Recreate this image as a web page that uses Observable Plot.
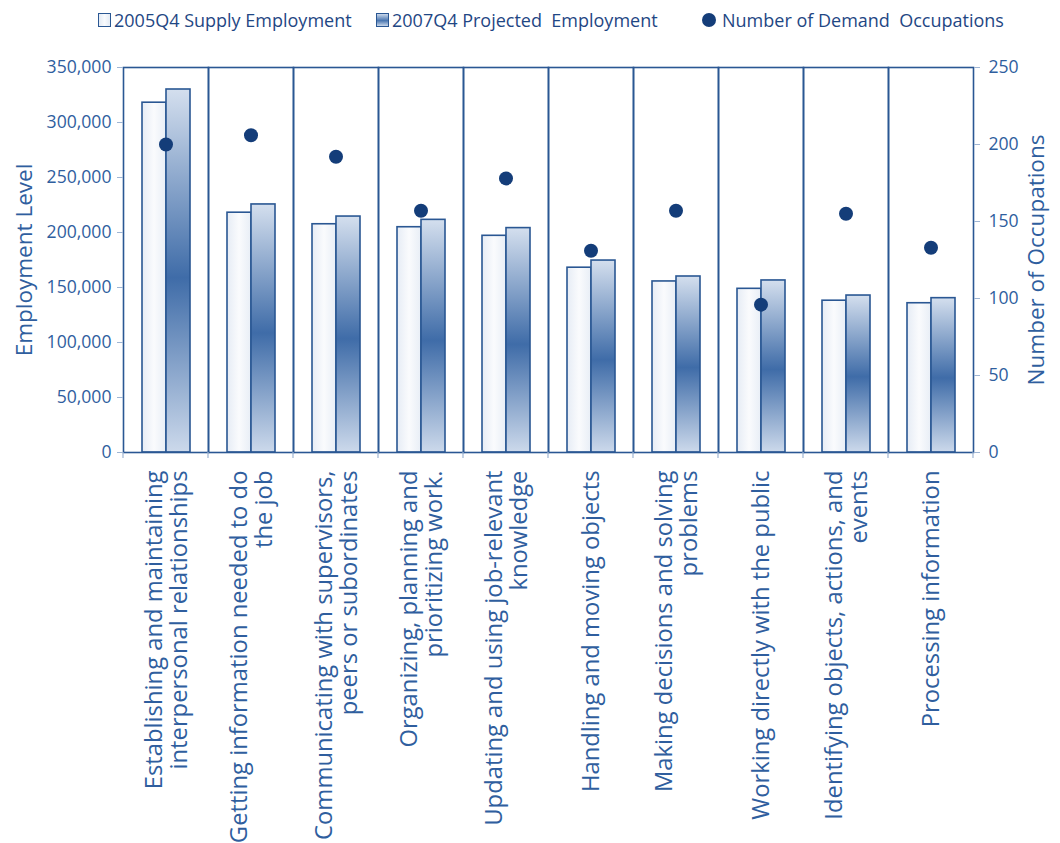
<!DOCTYPE html>
<html>
<head>
<meta charset="utf-8">
<script src="https://cdn.jsdelivr.net/npm/d3@7"></script>
<script src="https://cdn.jsdelivr.net/npm/@observablehq/plot@0.6"></script>
<style>
  body { margin: 0; background: #fff; font-family: "Open Sans", sans-serif; }
  #legend { position: relative; height: 40px; width: 1060px; }
  .item { position: absolute; top: 0; height: 40px; display: flex; align-items: center;
          font-size: 18px; color: #1f4784; white-space: pre; }
  .swatch { width: 11px; height: 12px; border: 1.5px solid #2a5793; margin-right: 3px; box-sizing: content-box; }
  .sw-supply { background: linear-gradient(to right, #e4ebf4, #f8fafd 50%, #e4ebf4); }
  .sw-proj { background: linear-gradient(to bottom, #c9d7ea, #4a76b0 55%, #c9d7ea); }
  .sw-dot { width: 14px; height: 14px; border-radius: 50%; background: #143d79; margin-right: 6px; }
</style>
</head>
<body>
<div id="legend"></div>
<div id="chart"></div>
<script>
// Work activities (x categories), tick-label text broken into lines
const categories = [
  "Establishing and maintaining interpersonal relationships",
  "Getting information needed to do the job",
  "Communicating with supervisors, peers or subordinates",
  "Organizing, planning and prioritizing work.",
  "Updating and using job-relevant knowledge",
  "Handling and moving objects",
  "Making decisions and solving problems",
  "Working directly with the public",
  "Identifying objects, actions, and events",
  "Processing information"
];
const categoryLines = [
  "Establishing and maintaining\ninterpersonal relationships",
  "Getting information needed to do\nthe job",
  "Communicating with supervisors,\npeers or subordinates",
  "Organizing, planning and\nprioritizing work.",
  "Updating and using job-relevant\nknowledge",
  "Handling and moving objects",
  "Making decisions and solving\nproblems",
  "Working directly with the public",
  "Identifying objects, actions, and\nevents",
  "Processing information"
];

// Series values
const supply2005Q4 = [318000, 218000, 207500, 204800, 197000, 168000, 155500, 148800, 138000, 135700];
const projected2007Q4 = [330000, 225500, 214500, 211500, 204000, 174500, 160000, 156400, 142700, 140300];
const demandOccupations = [200, 206, 192, 157, 178, 131, 157, 96, 155, 133];

// Axis ticks
const employmentTicks = [0, 50000, 100000, 150000, 200000, 250000, 300000, 350000];
const occupationTicks = [0, 50, 100, 150, 200, 250];

const seriesNames = ["2005Q4 Supply Employment", "2007Q4 Projected  Employment", "Number of Demand  Occupations"];

// The occupation count shares the employment y scale: 250 occupations ↔ 350,000 jobs
const occMax = 250, empMax = 350000;
const occToEmp = v => v * empMax / occMax;

const lineColor = "#2a5793";
const textColor = "#2f5e9e";
const dotColor = "#143d79";

const supplyRows = categories.map((c, i) => ({category: c, series: "2005Q4", value: supply2005Q4[i]}));
const projectedRows = categories.map((c, i) => ({category: c, series: "2007Q4", value: projected2007Q4[i]}));
const dotRows = categories.map((c, i) => ({category: c, occupations: demandOccupations[i]}));
const labelRows = categories.map((c, i) => ({category: c, label: categoryLines[i]}));

const plot = Plot.plot({
  width: 1060,
  height: 803,
  marginTop: 27,
  marginLeft: 123,
  marginRight: 87,
  marginBottom: 391,
  style: {fontFamily: "Open Sans", background: "#fff", overflow: "visible"},
  fx: {domain: categories, padding: 0, axis: null},
  x: {domain: ["2005Q4", "2007Q4"], paddingInner: 0, paddingOuter: 0.735, axis: null},
  y: {domain: [0, empMax], axis: null},
  marks: [
    Plot.barY(supplyRows, {fx: "category", x: "series", y: "value",
      fill: "url(#supplyFill)", stroke: lineColor, strokeWidth: 1.6}),
    Plot.barY(projectedRows, {fx: "category", x: "series", y: "value",
      fill: "url(#projFill)", stroke: lineColor, strokeWidth: 1.6}),
    Plot.frame({stroke: lineColor, strokeWidth: 1.6}),
    Plot.dot(dotRows, {fx: "category", y: d => occToEmp(d.occupations), r: 7, fill: dotColor}),
    Plot.axisY({anchor: "left", ticks: employmentTicks, tickFormat: d3.format(","),
      tickSize: 6, tickPadding: 6, fontSize: 17.6, color: textColor, label: null, stroke: "#9fb5d3"}),
    Plot.axisY({anchor: "right", ticks: occupationTicks.map(occToEmp), tickFormat: d => d / empMax * occMax,
      tickSize: 6, tickPadding: 9, fontSize: 17.6, color: textColor, label: null, stroke: "#9fb5d3"}),
    Plot.text(labelRows, {fx: "category", text: "label", frameAnchor: "bottom", rotate: -90,
      textAnchor: "end", lineAnchor: "middle", dy: 18, fontSize: 23.8, lineHeight: 1.05, fill: textColor}),
    Plot.text(["Employment Level"], {fx: () => categories[0], text: d => d, frameAnchor: "left",
      textAnchor: "middle", lineAnchor: "middle", dx: -99, rotate: -90, fontSize: 22.5, fill: textColor}),
    Plot.text(["Number of Occupations"], {fx: () => categories[categories.length - 1], text: d => d,
      frameAnchor: "right", textAnchor: "middle", lineAnchor: "middle", dx: 63, rotate: -90, fontSize: 22.5, fill: textColor})
  ]
});

// Gradient fills for the two bar series
const svg = d3.select(plot);
const defs = svg.insert("defs", ":first-child");
const gs = defs.append("linearGradient").attr("id", "supplyFill").attr("x1", 0).attr("x2", 1).attr("y1", 0).attr("y2", 0);
gs.append("stop").attr("offset", 0).attr("stop-color", "#e6ecf5");
gs.append("stop").attr("offset", 0.5).attr("stop-color", "#fafbfd");
gs.append("stop").attr("offset", 1).attr("stop-color", "#e8eef6");
const gp = defs.append("linearGradient").attr("id", "projFill").attr("x1", 0).attr("x2", 0).attr("y1", 0).attr("y2", 1);
gp.append("stop").attr("offset", 0).attr("stop-color", "#d4dfee");
gp.append("stop").attr("offset", 0.52).attr("stop-color", "#3f6ca8");
gp.append("stop").attr("offset", 1).attr("stop-color", "#ccd9eb");

// Small ticks under the baseline at each category boundary
const fx = plot.scale("fx");
const yS = plot.scale("y");
if (fx && yS) {
  const y0 = yS.apply(0);
  const edges = categories.map(c => fx.apply(c)).concat([fx.apply(categories[categories.length - 1]) + fx.bandwidth]);
  svg.append("g").selectAll("line").data(edges).join("line")
    .attr("x1", d => d).attr("x2", d => d).attr("y1", y0).attr("y2", y0 + 6)
    .attr("stroke", "#9fb5d3").attr("stroke-width", 1.2);
}

document.getElementById("chart").append(plot);

// Legend above the chart
const legend = d3.select("#legend");
const lg = [
  {left: 98, cls: "swatch sw-supply", text: seriesNames[0]},
  {left: 376, cls: "swatch sw-proj", text: seriesNames[1]},
  {left: 702, cls: "sw-dot", text: seriesNames[2]}
];
lg.forEach(d => {
  const item = legend.append("div").attr("class", "item").style("left", d.left + "px");
  item.append("div").attr("class", d.cls);
  item.append("span").text(d.text);
});
</script>
</body>
</html>
